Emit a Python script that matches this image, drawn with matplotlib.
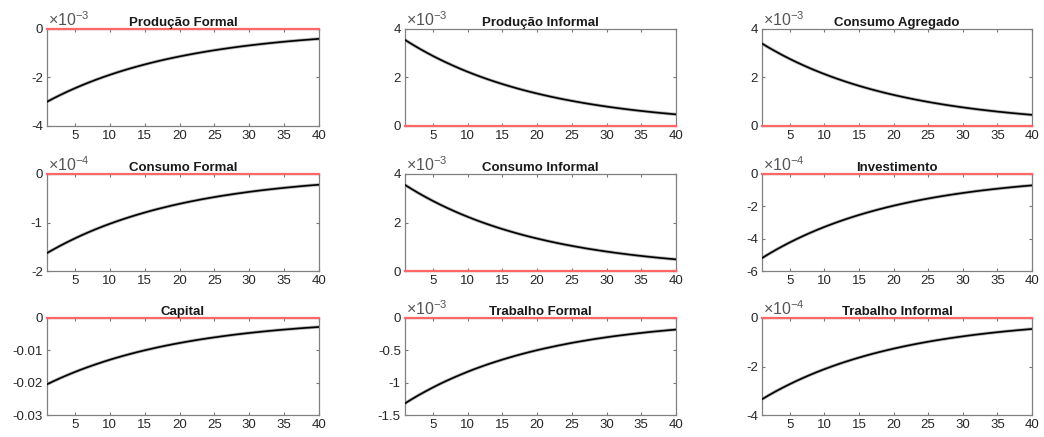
import matplotlib
matplotlib.use("Agg")
import matplotlib.pyplot as plt
import numpy as np

plt.rcParams['font.family'] = ['Liberation Sans', 'DejaVu Sans']
plt.rcParams['axes.unicode_minus'] = False
plt.rcParams['mathtext.fontset'] = 'custom'
plt.rcParams['mathtext.rm'] = 'Liberation Sans'

periods = np.arange(1, 41)

titles = ["Produção Formal", "Produção Informal", "Consumo Agregado",
          "Consumo Formal", "Consumo Informal", "Investimento",
          "Capital", "Trabalho Formal", "Trabalho Informal"]

# responses, in the units shown on each axis (see scales below)
producao_formal = [-3.000, -2.850, -2.708, -2.572, -2.444, -2.321, -2.205, -2.095, -1.990, -1.891,
                   -1.796, -1.706, -1.621, -1.540, -1.463, -1.390, -1.320, -1.254, -1.192, -1.132,
                   -1.076, -1.022, -0.971, -0.922, -0.876, -0.832, -0.791, -0.751, -0.713, -0.678,
                   -0.644, -0.612, -0.581, -0.552, -0.524, -0.498, -0.473, -0.450, -0.427, -0.406]
producao_informal = [3.550, 3.373, 3.204, 3.044, 2.891, 2.747, 2.610, 2.479, 2.355, 2.237,
                     2.125, 2.019, 1.918, 1.822, 1.731, 1.645, 1.562, 1.484, 1.410, 1.340,
                     1.273, 1.209, 1.148, 1.091, 1.037, 0.985, 0.935, 0.889, 0.844, 0.802,
                     0.762, 0.724, 0.688, 0.653, 0.621, 0.590, 0.560, 0.532, 0.506, 0.480]
consumo_agregado = [3.400, 3.230, 3.069, 2.915, 2.769, 2.631, 2.499, 2.374, 2.256, 2.143,
                    2.036, 1.934, 1.837, 1.745, 1.658, 1.575, 1.496, 1.422, 1.350, 1.283,
                    1.219, 1.158, 1.100, 1.045, 0.993, 0.943, 0.896, 0.851, 0.809, 0.768,
                    0.730, 0.693, 0.659, 0.626, 0.594, 0.565, 0.537, 0.510, 0.484, 0.460]
consumo_formal = [-1.630, -1.549, -1.471, -1.398, -1.328, -1.261, -1.198, -1.138, -1.081, -1.027,
                  -0.976, -0.927, -0.881, -0.837, -0.795, -0.755, -0.717, -0.682, -0.647, -0.615,
                  -0.584, -0.555, -0.527, -0.501, -0.476, -0.452, -0.430, -0.408, -0.388, -0.368,
                  -0.350, -0.332, -0.316, -0.300, -0.285, -0.271, -0.257, -0.244, -0.232, -0.221]
consumo_informal = [3.550, 3.373, 3.204, 3.044, 2.891, 2.747, 2.610, 2.479, 2.355, 2.237,
                    2.125, 2.019, 1.918, 1.822, 1.731, 1.645, 1.562, 1.484, 1.410, 1.340,
                    1.273, 1.209, 1.148, 1.091, 1.037, 0.985, 0.935, 0.889, 0.844, 0.802,
                    0.762, 0.724, 0.688, 0.653, 0.621, 0.590, 0.560, 0.532, 0.506, 0.480]
investimento = [-5.200, -4.940, -4.693, -4.458, -4.235, -4.024, -3.823, -3.631, -3.450, -3.277,
                -3.113, -2.958, -2.810, -2.669, -2.536, -2.409, -2.289, -2.174, -2.065, -1.962,
                -1.864, -1.771, -1.682, -1.598, -1.518, -1.442, -1.370, -1.302, -1.237, -1.175,
                -1.116, -1.060, -1.007, -0.957, -0.909, -0.864, -0.821, -0.779, -0.740, -0.704]
capital = [-20.50, -19.48, -18.50, -17.58, -16.70, -15.86, -15.07, -14.32, -13.60, -12.92,
           -12.27, -11.66, -11.08, -10.52, -10.00, -9.50, -9.02, -8.57, -8.14, -7.74,
           -7.35, -6.98, -6.63, -6.30, -5.99, -5.69, -5.40, -5.13, -4.87, -4.63,
           -4.40, -4.18, -3.97, -3.77, -3.58, -3.41, -3.23, -3.07, -2.92, -2.77]
trabalho_formal = [-1.320, -1.254, -1.191, -1.132, -1.075, -1.021, -0.970, -0.922, -0.876, -0.832,
                   -0.790, -0.751, -0.713, -0.678, -0.644, -0.612, -0.581, -0.552, -0.524, -0.498,
                   -0.473, -0.450, -0.427, -0.406, -0.385, -0.366, -0.348, -0.330, -0.314, -0.298,
                   -0.283, -0.269, -0.256, -0.243, -0.231, -0.219, -0.208, -0.198, -0.188, -0.179]
trabalho_informal = [-3.350, -3.183, -3.023, -2.872, -2.729, -2.592, -2.463, -2.339, -2.222, -2.111,
                     -2.006, -1.905, -1.810, -1.720, -1.634, -1.552, -1.474, -1.401, -1.331, -1.264,
                     -1.201, -1.141, -1.084, -1.030, -0.978, -0.929, -0.883, -0.839, -0.797, -0.757,
                     -0.719, -0.683, -0.649, -0.616, -0.586, -0.556, -0.529, -0.502, -0.477, -0.453]

series = [producao_formal, producao_informal, consumo_agregado,
          consumo_formal, consumo_informal, investimento,
          capital, trabalho_formal, trabalho_informal]
scales = [1e-3, 1e-3, 1e-3, 1e-4, 1e-3, 1e-4, 1e-3, 1e-3, 1e-4]
exponents = [-3, -3, -3, -4, -3, -4, None, -3, -4]
yticks = [[-4, -2, 0], [0, 2, 4], [0, 2, 4],
          [-2, -1, 0], [0, 2, 4], [-6, -4, -2, 0],
          [-0.03, -0.02, -0.01, 0], [-1.5, -1, -0.5, 0], [-4, -2, 0]]
ytick_labels = [["-4", "-2", "0"], ["0", "2", "4"], ["0", "2", "4"],
                ["-2", "-1", "0"], ["0", "2", "4"], ["-6", "-4", "-2", "0"],
                ["-0.03", "-0.02", "-0.01", "0"], ["-1.5", "-1", "-0.5", "0"], ["-4", "-2", "0"]]
xticks = [5, 10, 15, 20, 25, 30, 35, 40]

W, H = 1044, 437
lefts = [47, 405, 762]
widths = [272, 271, 270]
tops = [29, 174, 318]
ax_h = 97

fig = plt.figure(figsize=(W / 100, H / 100), dpi=100)

for i in range(9):
    r, c = divmod(i, 3)
    ax = fig.add_axes([lefts[c] / W, 1 - (tops[r] + ax_h) / H, widths[c] / W, ax_h / H])
    vals = np.array(series[i]) * scales[i]
    if exponents[i] is None:
        ticks = yticks[i]
    else:
        ticks = [t * 10.0 ** exponents[i] for t in yticks[i]]
    ax.plot(periods, np.zeros(len(periods)), color='#ff6666', lw=1.6, zorder=3, clip_on=False)
    ax.plot(periods, vals, color='#888888', lw=2.4, alpha=0.6, zorder=4)
    ax.plot(periods, vals, color='black', lw=1.2, zorder=5)
    ax.set_xlim(1, 40)
    ax.set_ylim(ticks[0], ticks[-1])
    ax.set_xticks(xticks)
    ax.set_yticks(ticks)
    ax.set_yticklabels(ytick_labels[i])
    ax.tick_params(direction='in', length=2.5, width=0.8, colors='#777777',
                   labelcolor='#262626', labelsize=9.5, pad=3)
    ax.tick_params(top=True, right=True, which='both')
    for s in ax.spines.values():
        s.set_color('#808080')
        s.set_linewidth(0.9)
    ax.set_title(titles[i], fontsize=9.5, fontweight='bold', pad=2, color='#1a1a1a')
    if exponents[i] is not None:
        ax.text(0.005, 0.995, '×' + r'$\mathregular{10^{%d}}$' % exponents[i],
                transform=ax.transAxes, ha='left', va='bottom',
                fontsize=11.5, color='#555555')

fig.savefig('out.png', dpi=100)
